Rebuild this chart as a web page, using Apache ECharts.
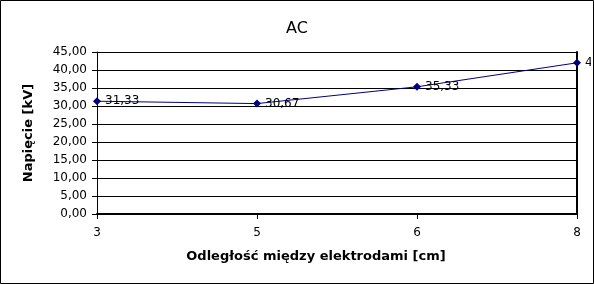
<!DOCTYPE html>
<html><head><meta charset="utf-8">
<script src="https://cdn.jsdelivr.net/npm/echarts@6/dist/echarts.min.js"></script>
<style>html,body{margin:0;padding:0;background:#fff}#c{width:594px;height:284px}</style>
</head><body><div id="c"></div>
<script>
const title = 'AC';
const categories = ['3', '5', '6', '8'];
const values = [31.33, 30.67, 35.33, 42.00];
const yMin = 0, yMax = 45, yStep = 5;
const xName = 'Odległość między elektrodami [cm]';
const yName = 'Napięcie [kV]';
const FONT = 'DejaVu Sans';
const fmt = v => Number(v).toFixed(2).replace('.', ',');

const chart = echarts.init(document.getElementById('c'), null, {renderer: 'canvas'});
chart.setOption({
  animation: false,
  backgroundColor: '#fff',
  textStyle: {fontFamily: FONT},
  title: {text: title, left: 'center', top: 16, textStyle: {fontFamily: FONT, fontSize: 16, fontWeight: 500, color: '#000'}},
  grid: {left: 97, right: 17, top: 52, bottom: 70},
  xAxis: [{
    type: 'category', data: categories, boundaryGap: false,
    name: xName, nameLocation: 'middle', nameGap: 36,
    nameTextStyle: {fontFamily: FONT, fontSize: 13, fontWeight: 'bold', color: '#000', padding: [0, 42, 0, 0]},
    axisLine: {lineStyle: {color: '#000', width: 1}},
    axisTick: {show: true, length: 5, lineStyle: {color: '#000'}},
    axisLabel: {margin: 13, fontFamily: FONT, fontSize: 12, color: '#000'},
    splitLine: {show: false}
  }, {
    type: 'category', data: categories, boundaryGap: false, position: 'top',
    axisLine: {lineStyle: {color: '#000', width: 2}},
    axisTick: {show: false}, axisLabel: {show: false}, splitLine: {show: false}
  }],
  yAxis: [{
    type: 'value', min: yMin, max: yMax, interval: yStep,
    name: yName, nameLocation: 'middle', nameGap: 62, nameRotate: 90,
    nameTextStyle: {fontFamily: FONT, fontSize: 13, fontWeight: 'bold', color: '#000'},
    axisLine: {show: true, lineStyle: {color: '#000', width: 1}},
    axisTick: {show: true, length: 5, lineStyle: {color: '#000'}},
    axisLabel: {margin: 10, fontFamily: FONT, fontSize: 12, color: '#000', formatter: fmt},
    splitLine: {show: true, lineStyle: {color: '#000', width: 1}}
  }, {
    type: 'value', min: yMin, max: yMax, interval: yStep, position: 'right',
    axisLine: {show: true, lineStyle: {color: '#000', width: 2}},
    axisTick: {show: false}, axisLabel: {show: false}, splitLine: {show: false}
  }],
  series: [{
    type: 'line', data: values, xAxisIndex: 0, yAxisIndex: 0,
    symbol: 'diamond', symbolSize: 8,
    lineStyle: {color: '#000080', width: 1},
    itemStyle: {color: '#000080'},
    label: {show: true, position: 'right', distance: 4, formatter: p => fmt(p.value),
      fontFamily: FONT, fontSize: 12, color: '#000'}
  }],
  graphic: [
    {type: 'rect', z: 100, shape: {x: 591, y: 0, width: 3, height: 284}, style: {fill: '#fff'}},
    {type: 'rect', z: 101, shape: {x: 0.5, y: 0.5, width: 593, height: 283}, style: {fill: 'none', stroke: '#000', lineWidth: 1}}
  ]
});
</script></body></html>
